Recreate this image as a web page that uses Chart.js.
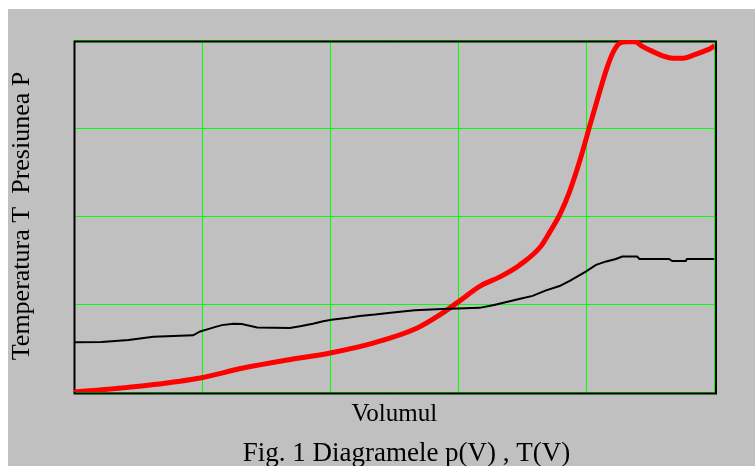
<!DOCTYPE html>
<html><head><meta charset="utf-8">
<script src="https://cdn.jsdelivr.net/npm/chart.js@4/dist/chart.umd.min.js"></script>
<style>html,body{margin:0;padding:0;background:#fff;overflow:hidden}#wrap{position:absolute;left:0;top:0;width:755px;height:466px}</style>
</head><body><div id="wrap"><canvas id="c" width="755" height="466"></canvas></div>
<script>
// Volumul (x, % of axis) and series values (% of axis)
const volumeP = [0, 4.1, 11.9, 19.7, 26.4, 33.3, 40.0, 46.7, 53.6, 57.1, 60.0, 63.4, 66.5, 69.6, 72.8, 74.3, 75.9, 77.4, 79.0, 80.6, 82.1, 83.2, 84.2, 85.2, 86.3, 87.6, 88.8, 90.4, 91.9, 93.5, 95.1, 96.7, 98.2, 99.8, 100];
const pressure = [0, 0.6, 2.0, 4.0, 6.8, 9.1, 11.1, 13.9, 18.2, 21.9, 25.6, 30.1, 32.7, 36.1, 41.2, 45.5, 50.6, 57.1, 65.9, 76.1, 85.5, 92.0, 96.6, 99.1, 99.5, 99.5, 98.1, 96.7, 95.5, 94.8, 94.8, 95.7, 96.7, 98.1, 98.5];
const volumeT = [0, 4.3, 8.5, 12.4, 18.6, 19.7, 20.8, 22.1, 23.1, 24.9, 26.2, 28.6, 33.7, 35.3, 37.3, 38.9, 40.2, 42.8, 44.6, 47.0, 49.8, 53.2, 57.5, 63.3, 65.6, 67.2, 69.5, 71.6, 73.6, 75.8, 77.4, 79.9, 81.5, 83.1, 84.6, 85.6, 87.9, 88.3, 92.9, 93.4, 95.5, 95.7, 100];
const temperature = [14.1, 14.2, 14.8, 15.7, 16.1, 17.2, 17.8, 18.5, 19.0, 19.4, 19.3, 18.3, 18.2, 18.7, 19.4, 20.1, 20.5, 21.1, 21.6, 22.0, 22.6, 23.2, 23.6, 23.9, 24.7, 25.4, 26.4, 27.3, 28.8, 30.1, 31.6, 34.2, 36.1, 37.1, 37.8, 38.5, 38.5, 37.8, 37.8, 37.2, 37.2, 37.8, 37.8];
const xTicks = [0, 20, 40, 60, 80, 100];
const yTicks = [0, 25, 50, 75, 100];
const xTitle = 'Volumul';
const yTitle = 'Temperatura T  Presiunea P';
const figTitle = 'Fig. 1 Diagramele p(V) , T(V)';

const pts = (xs, ys) => xs.map((x, i) => ({x: x, y: ys[i]}));
const SERIF = '"Liberation Serif", "Times New Roman", serif';

const bgPlugin = {
  id: 'bg',
  beforeDraw(chart) {
    const ctx = chart.ctx;
    ctx.save();
    ctx.fillStyle = '#ffffff';
    ctx.fillRect(0, 0, chart.width, chart.height);
    ctx.fillStyle = '#c0c0c0';
    ctx.fillRect(8, 9, chart.width - 8, chart.height - 9);
    ctx.restore();
  }
};
const titleShift = {
  id: 'titleShift',
  afterLayout(chart) {
    const t = chart.titleBlock;
    if (!t) return;
    const dx = 406.5 - (t.left + t.right) / 2;
    t.left += dx; t.right += dx;
  }
};
const framePlugin = {
  id: 'frame',
  beforeDatasetsDraw(chart) {
    const {ctx, chartArea: a} = chart;
    ctx.save();
    ctx.strokeStyle = '#000';
    ctx.lineWidth = 2;
    ctx.beginPath();
    ctx.moveTo(a.left + 0.5, a.top + 0.5);
    ctx.lineTo(a.left + 0.5, a.bottom + 2.5);
    ctx.moveTo(a.left - 0.5, a.top + 1.5);
    ctx.lineTo(a.right + 2.5, a.top + 1.5);
    ctx.moveTo(a.right + 1.5, a.top + 0.5);
    ctx.lineTo(a.right + 1.5, a.bottom + 2.5);
    ctx.moveTo(a.left - 0.5, a.bottom + 1.5);
    ctx.lineTo(a.right + 2.5, a.bottom + 1.5);
    ctx.stroke();
    ctx.restore();
  }
};

new Chart(document.getElementById('c'), {
  type: 'line',
  data: {
    datasets: [
      {label: 'T(V)', data: pts(volumeT, temperature), borderColor: '#000000', borderWidth: 2, pointRadius: 0, tension: 0, fill: false},
      {label: 'p(V)', data: pts(volumeP, pressure), borderColor: '#ff0000', borderWidth: 5, pointRadius: 0, cubicInterpolationMode: 'monotone', fill: false}
    ]
  },
  options: {
    responsive: false,
    animation: false,
    devicePixelRatio: 1,
    layout: {padding: {left: 0, top: 40, right: 40.5, bottom: 2}},
    plugins: {
      legend: {display: false},
      tooltip: {enabled: false},
      title: {display: true, position: 'bottom', text: figTitle, color: '#000',
        font: {family: SERIF, size: 27, weight: 'normal', lineHeight: '20px'},
        padding: {top: 19.4, bottom: 0}}
    },
    scales: {
      x: {type: 'linear', min: 0, max: 100,
        afterBuildTicks: s => { s.ticks = xTicks.map(v => ({value: v})); },
        ticks: {display: false},
        grid: {color: '#00ff00', lineWidth: 1, drawTicks: false},
        border: {display: false},
        title: {display: true, text: xTitle, color: '#000',
          font: {family: SERIF, size: 25, lineHeight: '20px'},
          padding: {top: 12.6, bottom: 0}}
      },
      y: {type: 'linear', min: 0, max: 100,
        afterBuildTicks: s => { s.ticks = yTicks.map(v => ({value: v})); },
        ticks: {display: false},
        grid: {color: '#00ff00', lineWidth: 1, drawTicks: false},
        border: {display: false},
        title: {display: true, text: yTitle, color: '#000',
          font: {family: SERIF, size: 26, lineHeight: '26px'},
          padding: {top: 9, bottom: 39}}
      }
    }
  },
  plugins: [bgPlugin, titleShift, framePlugin]
});
</script></body></html>
